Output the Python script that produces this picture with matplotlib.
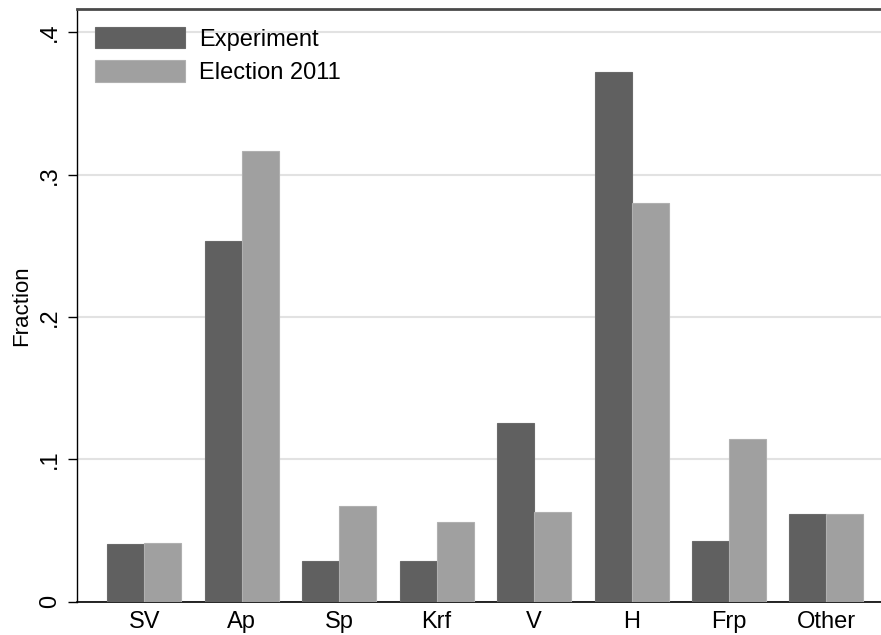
import matplotlib.pyplot as plt
import numpy as np

parties = ['SV', 'Ap', 'Sp', 'Krf', 'V', 'H', 'Frp', 'Other']
experiment = [0.0403, 0.2535, 0.0284, 0.0284, 0.1255, 0.3723, 0.0427, 0.0616]
election2011 = [0.0410, 0.3167, 0.0670, 0.0560, 0.0630, 0.2800, 0.1141, 0.0618]
yticks = [0, 0.1, 0.2, 0.3, 0.4]
yticklabels = ['0', '.1', '.2', '.3', '.4']

plt.rcParams['font.family'] = ['Liberation Sans', 'DejaVu Sans']

fig = plt.figure(figsize=(8.81, 6.35), dpi=100)
ax = fig.add_axes([77.3 / 881, 1 - 601.7 / 635, (881 - 77.3) / 881, (601.7 - 9) / 635])

x = np.arange(len(parties))
w = 0.38
ax.bar(x - w / 2, experiment, w, color='#606060', edgecolor='#6a6a6a', linewidth=0.8,
       label='Experiment', zorder=3)
ax.bar(x + w / 2, election2011, w, color='#a0a0a0', edgecolor='#b0b0b0', linewidth=0.8,
       label='Election 2011', zorder=3)

ax.set_xlim(-0.688, 7.56)
ax.set_ylim(0, 0.4165)
ax.set_xticks(x)
ax.set_xticklabels(parties, fontsize=17)
ax.tick_params(axis='x', length=0, pad=7)
ax.set_yticks(yticks)
ax.set_yticklabels(yticklabels, fontsize=17, rotation=90, va='center')
ax.tick_params(axis='y', length=6.5, width=1, pad=5)
ax.grid(axis='y', color='#e2e2e2', linewidth=1.5, zorder=0)
ax.set_ylabel('Fraction', fontsize=16, labelpad=5)

ax.spines['right'].set_visible(False)
ax.spines['top'].set_color('#4a4a4a')
ax.spines['top'].set_linewidth(2)
ax.spines['left'].set_linewidth(1)
ax.spines['bottom'].set_linewidth(1.2)

ax.legend(loc='upper left', fontsize=17, frameon=False, handlelength=3.8, handleheight=1.0,
          handletextpad=0.6, labelspacing=0.4, borderaxespad=0.0, bbox_to_anchor=(0.01, 0.985))

fig.savefig('out.png', dpi=100)
